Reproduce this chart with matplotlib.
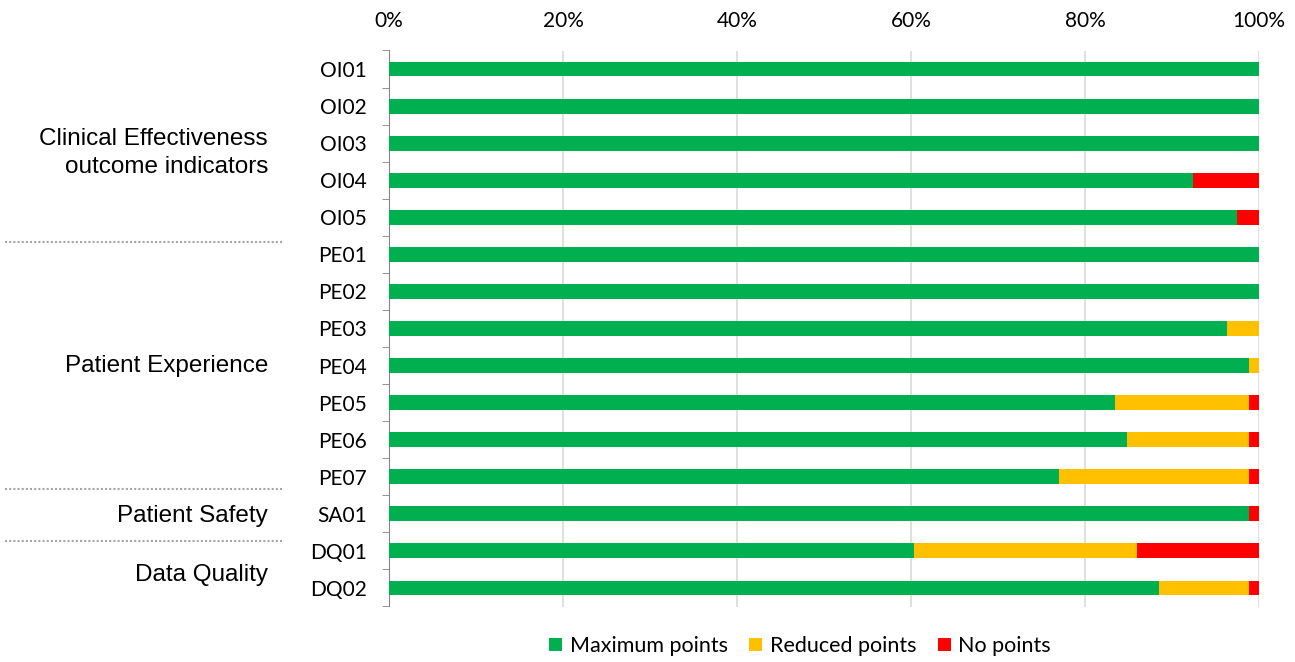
import matplotlib
matplotlib.use("Agg")
import matplotlib.pyplot as plt
import numpy as np

categories = ["OI01", "OI02", "OI03", "OI04", "OI05", "PE01", "PE02", "PE03", "PE04",
              "PE05", "PE06", "PE07", "SA01", "DQ01", "DQ02"]
maximum = [100, 100, 100, 92.4, 97.5, 100, 100, 96.3, 98.9, 83.4, 84.8, 77.0, 98.9, 60.3, 88.5]
reduced = [0, 0, 0, 0, 0, 0, 0, 3.7, 1.1, 15.5, 14.1, 21.9, 0, 25.7, 10.4]
nopoints = [0, 0, 0, 7.6, 2.5, 0, 0, 0, 0, 1.1, 1.1, 1.1, 1.1, 14.0, 1.1]
series_names = ["Maximum points", "Reduced points", "No points"]
colors = ["#00B050", "#FFC000", "#FF0000"]
groups = ["Clinical Effectiveness\noutcome indicators", "Patient Experience",
          "Patient Safety", "Data Quality"]
xticks = [0, 20, 40, 60, 80, 100]

W, H = 1295, 662
fig = plt.figure(figsize=(W / 100, H / 100), dpi=100)
ax = fig.add_axes([389 / W, 1 - 606.5 / H, 870 / W, (606.5 - 50.5) / H])

y = np.arange(len(categories))
left = np.zeros(len(categories))
for vals, name, c in zip([maximum, reduced, nopoints], series_names, colors):
    ax.barh(y, vals, left=left, height=0.4, color=c, label=name, zorder=3)
    left += np.array(vals)

ax.set_xlim(0, 100)
ax.set_ylim(len(categories) - 0.5, -0.5)
ax.xaxis.tick_top()
ax.set_xticks(xticks)
ax.set_xticklabels([f"{v}%" for v in xticks], fontsize=15, family="Lato")
ax.tick_params(axis="x", length=0, pad=14)
ax.grid(axis="x", color="#D9D9D9", linewidth=1.2, zorder=0)
ax.set_yticks(y)
ax.set_yticklabels(categories, fontsize=15, family="Lato")
ax.tick_params(axis="y", which="major", length=0, pad=16)
ax.set_yticks(np.arange(-0.5, len(categories), 1), minor=True)
ax.tick_params(axis="y", which="minor", length=5, color="#868686")
for s in ["top", "right", "bottom"]:
    ax.spines[s].set_visible(False)
ax.spines["left"].set_color("#868686")

# group labels and separators (figure coordinates, layout positions)
label_y = [153, 366, 516, 575]
for g, yl in zip(groups, label_y):
    fig.text(268 / W, 1 - yl / H, g, ha="right", va="center", fontsize=17.5,
             family="Liberation Sans", linespacing=1.4)
for yp in [242, 489, 541]:
    yf = 1 - yp / H
    fig.add_artist(plt.Line2D([5 / W, 282 / W], [yf, yf], transform=fig.transFigure,
                              color="#A6A6A6", linestyle=(0, (1, 1)), linewidth=1.5))

leg = fig.legend(loc="center", bbox_to_anchor=(800 / W, 1 - 646 / H), ncol=3,
                 frameon=False, prop={"family": "Lato", "size": 15.5},
                 handlelength=0.6, handleheight=0.6, columnspacing=1.0, handletextpad=0.35)

fig.savefig("out.png", dpi=100)
